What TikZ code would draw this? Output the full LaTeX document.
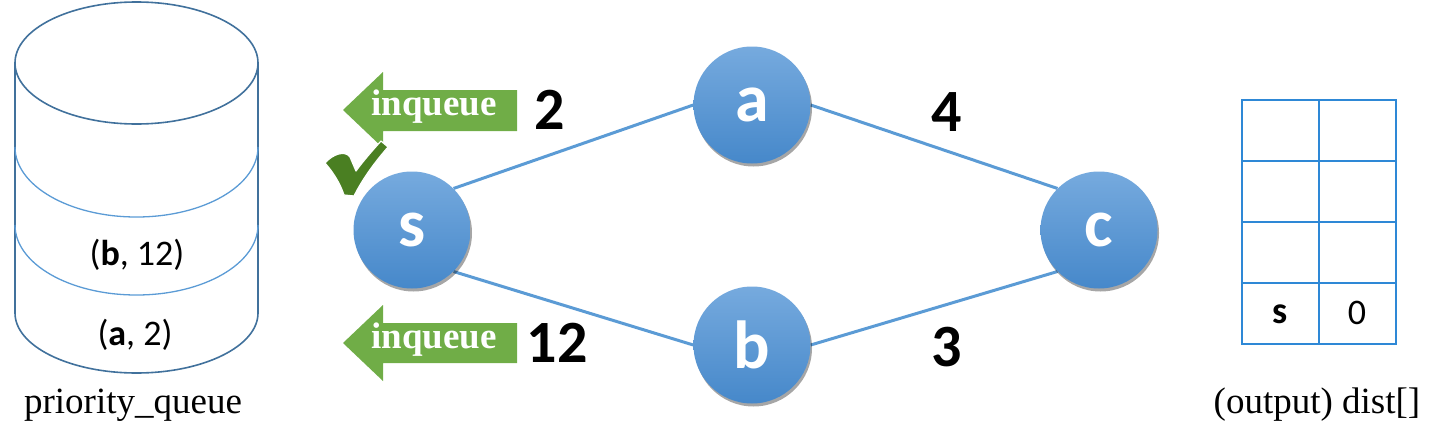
\documentclass[tikz,border=0pt]{standalone}
\usepackage{fontspec}
\setmainfont{Liberation Serif}
\newfontfamily\calibri{Carlito}
\usetikzlibrary{shadows,backgrounds}
\definecolor{cylout}{HTML}{41719C}
\definecolor{cylband}{HTML}{5B9BD5}
\definecolor{edgeblue}{HTML}{5B9BD5}
\definecolor{balltop}{RGB}{118,170,222}
\definecolor{ballmid}{RGB}{91,155,213}
\definecolor{ballbot}{RGB}{70,136,202}
\definecolor{arrowgreen}{HTML}{70AD47}
\definecolor{checkgreen}{HTML}{4A7F22}
\definecolor{tableblue}{HTML}{2E88D6}
\tikzset{
  ball/.style={circle, minimum size=117pt, inner sep=0pt, top color=balltop, middle color=ballmid, bottom color=ballbot,
    drop shadow={shadow xshift=1.5pt, shadow yshift=-3pt, opacity=0.35, fill=black},
    text=white, font=\calibri\bfseries\fontsize{68}{68}\selectfont},
  edge/.style={draw=edgeblue, line width=3pt},
  weight/.style={font=\calibri\bfseries\fontsize{60}{60}\selectfont, text=black, inner sep=0pt},
  qtext/.style={font=\calibri\fontsize{36}{36}\selectfont, inner sep=0pt, anchor=base},
  caption/.style={font=\fontsize{37}{40}\selectfont, inner sep=0pt, anchor=base},
  iqtext/.style={font=\bfseries\fontsize{37}{37}\selectfont, text=white, inner sep=0pt},
  cell/.style={font=\calibri\fontsize{36}{36}\selectfont, inner sep=0pt},
}
\begin{document}
\begin{tikzpicture}[x=1pt,y=-1pt]
\useasboundingbox (0,0) rectangle (1446,447);
% ---------- cylinder (priority queue)
\draw[cylout, line width=1.6pt] (136.5,63) ellipse [x radius=121.5pt, y radius=61pt];
\draw[cylout, line width=1.6pt] (15,63) -- (15,313) arc[start angle=180, end angle=360, x radius=121.5pt, y radius=60pt] -- (258,63);
\draw[cylband, line width=1.3pt] (15,147) arc[start angle=180, end angle=360, x radius=121.5pt, y radius=70pt];
\draw[cylband, line width=1.3pt] (15,225) arc[start angle=180, end angle=360, x radius=121.5pt, y radius=70pt];
\node[qtext] (qb) at (137,265) {(\textbf{b}, 12)};
\node[qtext] (qa) at (135,345) {(\textbf{a}, 2)};
\node[caption] (pq) at (133,413) {priority\_queue};
% ---------- graph
\node[ball] (s) at (412,230) {s};
\node[ball] (a) at (752,105) {a};
\node[ball] (b) at (752,345) {b};
\node[ball] (c) at (1099,230) {c};
\begin{scope}[on background layer]
\draw[edge] (s.north east) -- (a.west);
\draw[edge] (a.east) -- (c.north west);
\draw[edge] (s.south east) -- (b.west);
\draw[edge] (b.east) -- (c.south west);
\end{scope}
% ---------- weights
\node[weight] (w2) at (550,110) {2};
\node[weight] (w4) at (947,112) {4};
\node[weight] (w12) at (557,343) {12};
\node[weight] (w3) at (947,347) {3};
% ---------- inqueue arrows
\fill[arrowgreen] (343,110) -- (383,72) -- (383,90) -- (517,90) -- (517,131) -- (383,131) -- (383,148) -- cycle;
\node[iqtext] (iq1) at (434,107) {inqueue};
\fill[arrowgreen] (343,343) -- (383,305) -- (383,323) -- (517,323) -- (517,363) -- (383,363) -- (383,381) -- cycle;
\node[iqtext] (iq2) at (434,340) {inqueue};
% ---------- check mark
\filldraw[checkgreen, draw=white, line width=1.2pt, line join=round]
  (325,163) .. controls (333,154) and (345,150) .. (350,157)
  -- (356,171) .. controls (364,160) and (373,150) .. (381,141)
  -- (388,147) .. controls (375,162) and (363,178) .. (354,196)
  -- (344,195) .. controls (340,183) and (333,172) .. cycle;
% ---------- dist table
\draw[tableblue, line width=1.8pt] (1242,100) rectangle (1396,344);
\draw[tableblue, line width=1.8pt] (1319,100) -- (1319,344);
\draw[tableblue, line width=1.8pt] (1242,161) -- (1396,161);
\draw[tableblue, line width=1.8pt] (1242,222) -- (1396,222);
\draw[tableblue, line width=1.8pt] (1242,283) -- (1396,283);
\node[cell, font=\calibri\bfseries\fontsize{38}{38}\selectfont] (ts) at (1280,314) {s};
\node[cell] (t0) at (1357,313) {0};
\node[caption] (dist) at (1317,413) {(output) dist[]};
\end{tikzpicture}
\end{document}
